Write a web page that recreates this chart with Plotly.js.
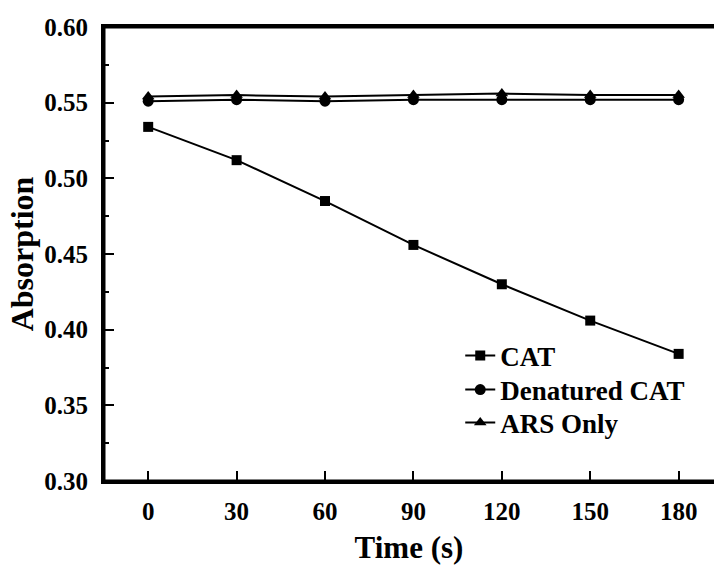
<!DOCTYPE html>
<html>
<head>
<meta charset="utf-8">
<script src="https://cdn.plot.ly/plotly-3.0.1.min.js"></script>
<style>html,body{margin:0;padding:0;background:#fff;}#chart{width:714px;height:567px;}</style>
</head>
<body>
<div id="chart"></div>
<script>
const time = [0, 30, 60, 90, 120, 150, 180];
const catValues = [0.534, 0.512, 0.485, 0.456, 0.430, 0.406, 0.384];
const denaturedValues = [0.551, 0.552, 0.551, 0.552, 0.552, 0.552, 0.552];
const arsValues = [0.554, 0.555, 0.554, 0.555, 0.556, 0.555, 0.555];
const seriesNames = ['CAT', 'Denatured CAT', 'ARS Only'];
const xTickVals = [0, 30, 60, 90, 120, 150, 180];
const yTickVals = [0.30, 0.35, 0.40, 0.45, 0.50, 0.55, 0.60];

const font = '"Liberation Serif", "Times New Roman", Times, serif';
const lineStyle = {color: '#000', width: 2};

const traces = [
  {x: time, y: catValues, name: seriesNames[0], mode: 'lines+markers', line: lineStyle, legend: 'legend',
   marker: {symbol: 'square', size: 10, color: '#000'}},
  {x: time, y: denaturedValues, name: seriesNames[1], mode: 'lines+markers', line: lineStyle, legend: 'legend2',
   marker: {symbol: 'circle', size: 11, color: '#000'}},
  {x: time, y: arsValues, name: seriesNames[2], mode: 'lines+markers', line: lineStyle, legend: 'legend3',
   marker: {symbol: 'triangle-up', size: 11, color: '#000'}}
];

const legendFont = {family: font, size: 27, color: '#000', weight: 'bold'};
function legendAt(y) {
  return {x: 0.584, y: y, xanchor: 'left', yanchor: 'middle', bgcolor: 'rgba(0,0,0,0)', font: legendFont};
}

const layout = {
  width: 714, height: 567,
  margin: {l: 104, r: 0, t: 27, b: 86},
  paper_bgcolor: '#fff', plot_bgcolor: '#fff',
  font: {family: font, color: '#000', size: 25, weight: 'bold'},
  showlegend: true,
  legend: legendAt(0.2753),
  legend2: legendAt(0.2004),
  legend3: legendAt(0.1278),
  shapes: [
    {type: 'path', xref: 'paper', yref: 'paper', path: 'M 1.01 1 L 0 1 L 0 0 L 1.01 0',
     line: {color: '#000', width: 3}, layer: 'above'}
  ],
  xaxis: {
    range: [-15, 192], tickmode: 'array', tickvals: xTickVals, ticktext: xTickVals.map(String),
    showgrid: false, zeroline: false, showline: true, linecolor: '#000', linewidth: 3, mirror: true,
    ticks: 'inside', ticklen: 10, tickwidth: 2, tickcolor: '#000', ticklabelstandoff: 6,
    tickfont: {family: font, size: 25, color: '#000', weight: 'bold'},
    title: {text: 'Time (s)', font: {family: font, size: 31, color: '#000', weight: 'bold'}, standoff: 13}
  },
  yaxis: {
    range: [0.30, 0.60], tickmode: 'array', tickvals: yTickVals, ticktext: yTickVals.map(v => v.toFixed(2)),
    showgrid: false, zeroline: false, showline: true, linecolor: '#000', linewidth: 3, mirror: true,
    ticks: 'inside', ticklen: 10, tickwidth: 2, tickcolor: '#000', ticklabelstandoff: 8,
    minor: {dtick: 0.025, ticks: 'inside', ticklen: 5, tickwidth: 2, tickcolor: '#000', showgrid: false},
    tickfont: {family: font, size: 25, color: '#000', weight: 'bold'},
    title: {text: 'Absorption', font: {family: font, size: 32, color: '#000', weight: 'bold'}, standoff: 2}
  }
};

Plotly.newPlot('chart', traces, layout, {displayModeBar: false, staticPlot: true});
</script>
</body>
</html>
